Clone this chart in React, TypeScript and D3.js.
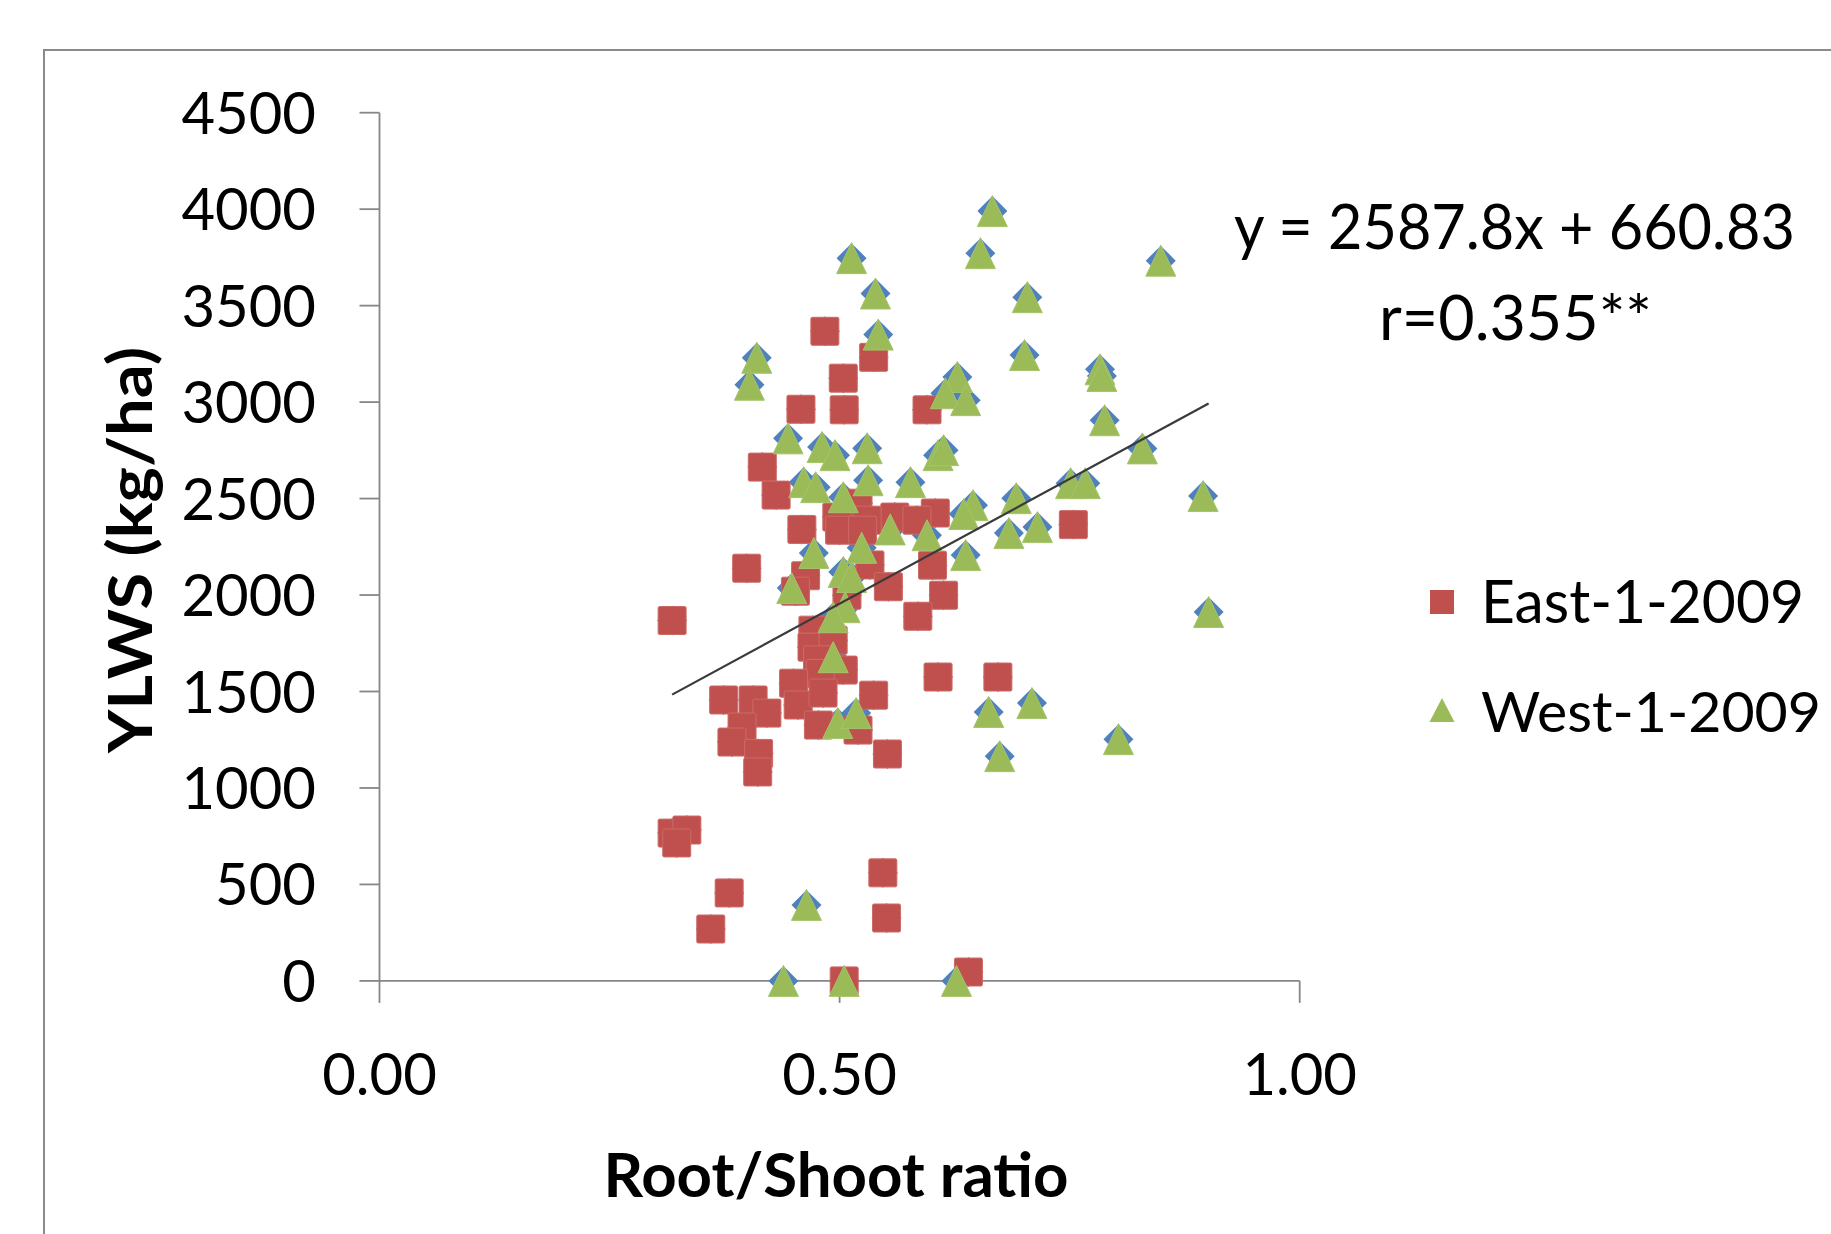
import React, { useRef, useEffect } from 'react';
import * as d3 from 'd3';

// Root/Shoot ratio (x) and YLWS in kg/ha (y)
const eastRatio = [0.484, 0.537, 0.504, 0.458, 0.505, 0.595, 0.416, 0.431, 0.520, 0.560, 0.604, 0.584, 0.459, 0.497, 0.530, 0.754, 0.399, 0.463, 0.452, 0.533, 0.553, 0.601, 0.613, 0.585, 0.508, 0.318, 0.471, 0.470, 0.493, 0.476, 0.504, 0.479, 0.450, 0.607, 0.672, 0.537, 0.455, 0.482, 0.374, 0.406, 0.421, 0.394, 0.383, 0.412, 0.411, 0.477, 0.520, 0.552, 0.318, 0.334, 0.323, 0.380, 0.360, 0.547, 0.551, 0.505, 0.640, 0.500, 0.525];
const eastYield = [3367, 3232, 3124, 2963, 2960, 2960, 2663, 2518, 2476, 2404, 2425, 2388, 2340, 2404, 2388, 2365, 2139, 2100, 2020, 2156, 2043, 2155, 1999, 1890, 1999, 1868, 1818, 1730, 1766, 1664, 1611, 1594, 1543, 1575, 1575, 1481, 1430, 1492, 1456, 1456, 1388, 1316, 1238, 1179, 1083, 1326, 1300, 1176, 766, 782, 715, 456, 269, 560, 326, 0, 46, 2336, 2336];

const westRatio = [0.666, 0.513, 0.653, 0.849, 0.539, 0.704, 0.542, 0.410, 0.402, 0.701, 0.783, 0.785, 0.628, 0.615, 0.637, 0.788, 0.444, 0.481, 0.495, 0.530, 0.607, 0.613, 0.829, 0.461, 0.474, 0.531, 0.577, 0.504, 0.751, 0.767, 0.692, 0.895, 0.645, 0.635, 0.715, 0.684, 0.637, 0.555, 0.595, 0.472, 0.524, 0.448, 0.504, 0.513, 0.506, 0.493, 0.493, 0.901, 0.498, 0.518, 0.662, 0.709, 0.674, 0.803, 0.464, 0.439, 0.505, 0.627];
const westYield = [3990, 3746, 3772, 3733, 3563, 3544, 3350, 3230, 3090, 3244, 3170, 3135, 3130, 3046, 3010, 2906, 2812, 2767, 2725, 2761, 2725, 2751, 2760, 2585, 2559, 2595, 2585, 2507, 2580, 2580, 2502, 2513, 2466, 2420, 2352, 2321, 2207, 2340, 2310, 2218, 2245, 2036, 2120, 2093, 1937, 1885, 1678, 1912, 1337, 1388, 1394, 1440, 1165, 1253, 394, 0, 0, 0];

const xTicks = [0, 0.5, 1.0];
const yTicks = [0, 500, 1000, 1500, 2000, 2500, 3000, 3500, 4000, 4500];

const trendSlope = 2587.8;
const trendIntercept = 660.83;
const equationText = 'y = 2587.8x + 660.83';
const rText = 'r=0.355**';
const seriesNames = ['East-1-2009', 'West-1-2009'];

const W = 1831;
const H = 1234;

const ScatterChart = () => {
  const svgRef = useRef<SVGSVGElement>(null);

  useEffect(() => {
    const svg = d3.select(svgRef.current);
    svg.selectAll('*').remove();

    const x = d3.scaleLinear().domain([0, 1]).range([379.5, 1299.7]);
    const y = d3.scaleLinear().domain([0, 4500]).range([980.9, 112.7]);

    const font = 'Lato, "Open Sans", sans-serif';
    const axisColor = '#868686';

    // chart frame, open on the right and bottom like the cropped original
    svg.append('path')
      .attr('d', `M${W},50H44V${H}`)
      .attr('fill', 'none')
      .attr('stroke', '#8a8a8a')
      .attr('stroke-width', 2);

    // axes
    svg.append('line')
      .attr('x1', x(0)).attr('x2', x(0))
      .attr('y1', y(0)).attr('y2', y(4500))
      .attr('stroke', axisColor).attr('stroke-width', 1.8);
    svg.append('line')
      .attr('x1', x(0)).attr('x2', x(1))
      .attr('y1', y(0)).attr('y2', y(0))
      .attr('stroke', axisColor).attr('stroke-width', 1.8);

    svg.append('g').selectAll('line')
      .data(yTicks)
      .join('line')
      .attr('x1', x(0) - 20).attr('x2', x(0))
      .attr('y1', d => y(d)).attr('y2', d => y(d))
      .attr('stroke', axisColor).attr('stroke-width', 1.8);

    svg.append('g').selectAll('line')
      .data(xTicks)
      .join('line')
      .attr('x1', d => x(d)).attr('x2', d => x(d))
      .attr('y1', y(0)).attr('y2', y(0) + 22)
      .attr('stroke', axisColor).attr('stroke-width', 1.8);

    // tick labels
    svg.append('g').selectAll('text')
      .data(yTicks)
      .join('text')
      .attr('x', 316)
      .attr('y', d => y(d) + 21)
      .attr('text-anchor', 'end')
      .attr('font-family', font)
      .attr('font-size', 58)
      .attr('fill', '#000')
      .text(d => `${d}`);

    svg.append('g').selectAll('text')
      .data(xTicks)
      .join('text')
      .attr('x', d => x(d))
      .attr('y', 1095)
      .attr('text-anchor', 'middle')
      .attr('font-family', font)
      .attr('font-size', 58)
      .attr('fill', '#000')
      .text(d => d.toFixed(2));

    // axis titles
    svg.append('text')
      .attr('x', 836).attr('y', 1197)
      .attr('text-anchor', 'middle')
      .attr('font-family', font)
      .attr('font-weight', 700)
      .attr('font-size', 62)
      .attr('textLength', 465)
      .attr('lengthAdjust', 'spacingAndGlyphs')
      .text('Root/Shoot ratio');

    svg.append('text')
      .attr('transform', 'translate(152,550) rotate(-90)')
      .attr('text-anchor', 'middle')
      .attr('font-family', font)
      .attr('font-weight', 700)
      .attr('font-size', 62)
      .attr('textLength', 406)
      .attr('lengthAdjust', 'spacingAndGlyphs')
      .text('YLWS (kg/ha)');

    const allX = [...eastRatio, ...westRatio];
    const allY = [...eastYield, ...westYield];

    // blue diamonds of the combined series sit under everything
    const diamond = (cx: number, cy: number) =>
      `M${cx},${cy - 15}L${cx + 15},${cy}L${cx},${cy + 15}L${cx - 15},${cy}Z`;
    svg.append('g').selectAll('path')
      .data(d3.range(allX.length))
      .join('path')
      .attr('d', i => diamond(x(allX[i]), y(allY[i])))
      .attr('fill', '#4F81BD');

    // East squares
    svg.append('g').selectAll('rect')
      .data(d3.range(eastRatio.length))
      .join('rect')
      .attr('x', i => x(eastRatio[i]) - 14)
      .attr('y', i => y(eastYield[i]) - 14)
      .attr('width', 28).attr('height', 28)
      .attr('rx', 1.5)
      .attr('fill', '#C0504D')
      .attr('stroke', '#cc6a67')
      .attr('stroke-width', 1);

    // West triangles
    const triangle = (cx: number, cy: number, hw: number, hh: number) =>
      `M${cx},${cy - hh}L${cx + hw},${cy + hh}L${cx - hw},${cy + hh}Z`;
    svg.append('g').selectAll('path')
      .data(d3.range(westRatio.length))
      .join('path')
      .attr('d', i => triangle(x(westRatio[i]), y(westYield[i]), 15, 15.5))
      .attr('fill', '#9BBB59')
      .attr('stroke', '#a6c36b')
      .attr('stroke-width', 1);

    // linear trend over the pooled data
    const [xMin, xMax] = d3.extent(allX) as [number, number];
    const line = d3.line<number>()
      .x(d => x(d))
      .y(d => y(trendSlope * d + trendIntercept));
    svg.append('path')
      .attr('d', line([xMin, xMax]))
      .attr('fill', 'none')
      .attr('stroke', '#3a3a3a')
      .attr('stroke-width', 2.2);

    // equation
    svg.append('text')
      .attr('x', 1234).attr('y', 249)
      .attr('font-family', font)
      .attr('font-size', 61)
      .attr('textLength', 561)
      .attr('lengthAdjust', 'spacingAndGlyphs')
      .text(equationText);
    svg.append('text')
      .attr('x', 1379).attr('y', 340)
      .attr('font-family', font)
      .attr('font-size', 61)
      .attr('textLength', 273)
      .attr('lengthAdjust', 'spacingAndGlyphs')
      .text(rText);

    // legend
    const legend = svg.append('g');
    legend.append('rect')
      .attr('x', 1430).attr('y', 590)
      .attr('width', 24).attr('height', 24)
      .attr('fill', '#C0504D');
    legend.append('path')
      .attr('d', triangle(1442, 710, 12.5, 12))
      .attr('fill', '#9BBB59');
    legend.selectAll('text')
      .data(seriesNames)
      .join('text')
      .attr('x', 1481)
      .attr('y', (d, i) => 623 + i * 109)
      .attr('font-family', font)
      .attr('font-size', (d, i) => (i === 0 ? 60 : 57))
      .attr('textLength', (d, i) => (i === 0 ? 323 : 340))
      .attr('lengthAdjust', 'spacingAndGlyphs')
      .text(d => d);
  }, []);

  return (
    <svg
      ref={svgRef}
      width={W}
      height={H}
      style={{ position: 'absolute', left: 0, top: 0, display: 'block', background: 'white' }}
    ></svg>
  );
};

export default function App() {
  return <ScatterChart />;
}
